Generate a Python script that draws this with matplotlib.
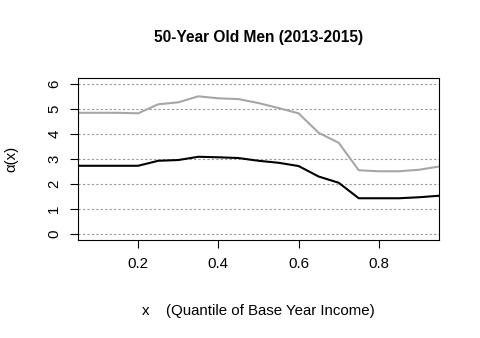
import numpy as np
import matplotlib.pyplot as plt

plt.rcParams['font.family'] = ['Liberation Sans', 'DejaVu Sans']

# quantiles of base year income
x = [0.05, 0.10, 0.15, 0.20, 0.25, 0.30, 0.35, 0.40, 0.45, 0.50,
     0.55, 0.60, 0.65, 0.70, 0.75, 0.80, 0.85, 0.90, 0.95]
alpha_upper = [4.85, 4.85, 4.85, 4.83, 5.19, 5.27, 5.51, 5.43, 5.40, 5.24,
               5.04, 4.83, 4.05, 3.65, 2.55, 2.51, 2.51, 2.57, 2.70]
alpha_lower = [2.73, 2.73, 2.73, 2.73, 2.93, 2.96, 3.09, 3.07, 3.04, 2.93,
               2.85, 2.72, 2.30, 2.05, 1.43, 1.43, 1.43, 1.47, 1.53]
xticks = [0.2, 0.4, 0.6, 0.8]
yticks = [0, 1, 2, 3, 4, 5, 6]

fig = plt.figure(figsize=(4.8, 3.38), dpi=100)
ax = fig.add_axes([0.1625, 0.29, 0.752, 0.479])

for y in yticks:
    ax.axhline(y, color='#999999', linestyle=(0, (2, 2)), linewidth=0.8, zorder=1)

ax.plot(x, alpha_upper, color='#A6A6A6', linewidth=1.5, zorder=2)
ax.plot(x, alpha_lower, color='black', linewidth=1.5, zorder=3)

ax.set_xlim(0.05, 0.95)
ax.set_ylim(-0.24, 6.24)
ax.set_xticks(xticks)
ax.set_xticklabels([str(t) for t in xticks])
ax.set_yticks(yticks)
ax.set_yticklabels([str(t) for t in yticks], rotation=90, va='center')
ax.tick_params(direction='out', length=6, width=0.8, labelsize=10.8, pad=6)

for s in ax.spines.values():
    s.set_linewidth(0.8)

ax.set_title('50-Year Old Men (2013-2015)', fontsize=11.2, fontweight='bold', pad=26)
ax.set_xlabel('x    (Quantile of Base Year Income)', fontsize=10.8, labelpad=24)
ax.set_ylabel('α(x)', fontsize=10.8, labelpad=21)

fig.savefig('out.png', dpi=100)
